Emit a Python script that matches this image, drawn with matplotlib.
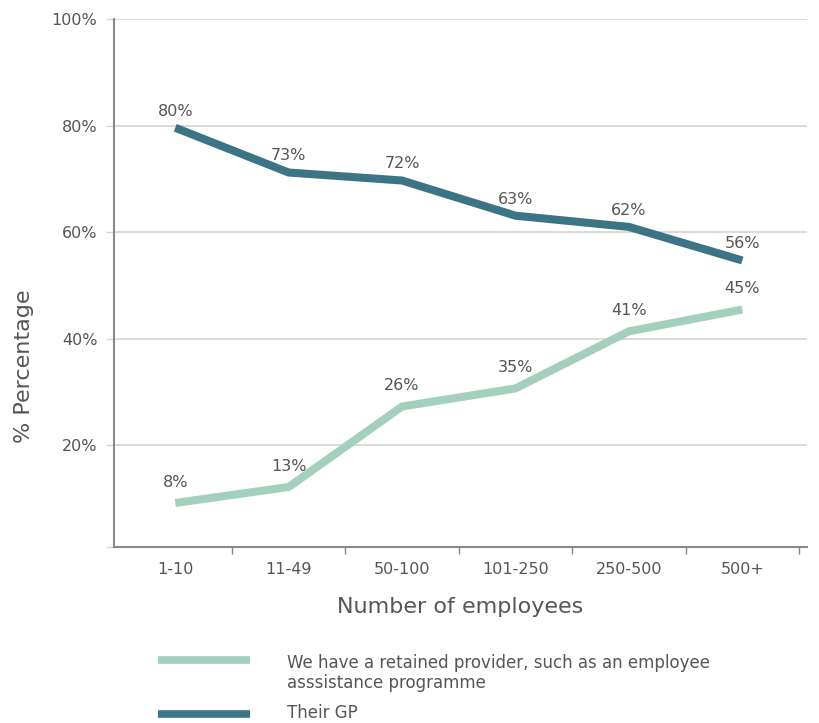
import matplotlib
matplotlib.use('Agg')
import matplotlib.pyplot as plt
from matplotlib.lines import Line2D
import numpy as np

# data
categories = ["1-10", "11-49", "50-100", "101-250", "250-500", "500+"]
gp_values = [79.6, 71.2, 69.7, 63.1, 61.0, 54.7]
gp_labels = ["80%", "73%", "72%", "63%", "62%", "56%"]
eap_values = [9.2, 12.2, 27.3, 30.7, 41.4, 45.5]
eap_labels = ["8%", "13%", "26%", "35%", "41%", "45%"]
y_ticks = [20, 40, 60, 80, 100]

gp_name = "Their GP"
eap_name = "We have a retained provider, such as an employee\nasssistance programme"

GP_COL = "#3b7585"
EAP_COL = "#a3cfbd"
TXT = "#555555"

plt.rcParams['font.family'] = ['DejaVu Sans']

fig = plt.figure(figsize=(8.19, 7.23), dpi=100)
ax = fig.add_axes([0.1392, 0.2434, 0.8461, 0.7303])

x = np.arange(len(categories))
ax.plot(x, eap_values, color=EAP_COL, lw=5.8, solid_capstyle='butt', solid_joinstyle='round')
ax.plot(x, gp_values, color=GP_COL, lw=5.8, solid_capstyle='butt', solid_joinstyle='round')

for xi, v, lab in zip(x, gp_values, gp_labels):
    ax.annotate(lab, (xi, v), xytext=(0, 12), textcoords='offset points',
                ha='center', va='center', fontsize=11.5, color=TXT)
for xi, v, lab in zip(x, eap_values, eap_labels):
    ax.annotate(lab, (xi, v), xytext=(0, 15), textcoords='offset points',
                ha='center', va='center', fontsize=11.5, color=TXT)

ymin = 0.94
ax.set_ylim(ymin, 100)
ax.set_xlim(-0.54, 5.57)
ax.set_yticks([ymin] + y_ticks)
ax.set_yticklabels([""] + ["{}%".format(t) for t in y_ticks])
ax.yaxis.grid(True, color="#d4d4d4", lw=1.2)
ax.set_axisbelow(True)

ax.set_xticks(x)
ax.set_xticklabels(categories)
ax.set_xticks(x + 0.5, minor=True)
ax.tick_params(axis='x', which='major', length=0, pad=11, labelsize=11.5, colors=TXT)
ax.tick_params(axis='x', which='minor', length=5, width=1, color="#888888", direction='out')
ax.tick_params(axis='y', length=6, width=1, color="#d4d4d4", pad=6, labelsize=11.5, labelcolor=TXT)

for s in ['top', 'right']:
    ax.spines[s].set_visible(False)
for s in ['left', 'bottom']:
    ax.spines[s].set_color("#888888")
    ax.spines[s].set_linewidth(1.5)

ax.set_xlabel("Number of employees", fontsize=16, color=TXT, labelpad=14)
ax.set_ylabel("% Percentage", fontsize=16, color=TXT)
ax.yaxis.set_label_coords(-0.116, 0.343)

# legend drawn by hand below the chart
fig.add_artist(Line2D([158/819, 250/819], [1-660/723]*2, color=EAP_COL, lw=5.5,
                      solid_capstyle='butt'))
fig.add_artist(Line2D([158/819, 250/819], [1-714/723]*2, color=GP_COL, lw=5.5,
                      solid_capstyle='butt'))
fig.text(287/819, 1-673/723, eap_name, fontsize=12, color=TXT, va='center', ha='left',
         linespacing=1.2)
fig.text(287/819, 1-713/723, gp_name, fontsize=12, color=TXT, va='center', ha='left')

fig.savefig("out.png", dpi=100)
